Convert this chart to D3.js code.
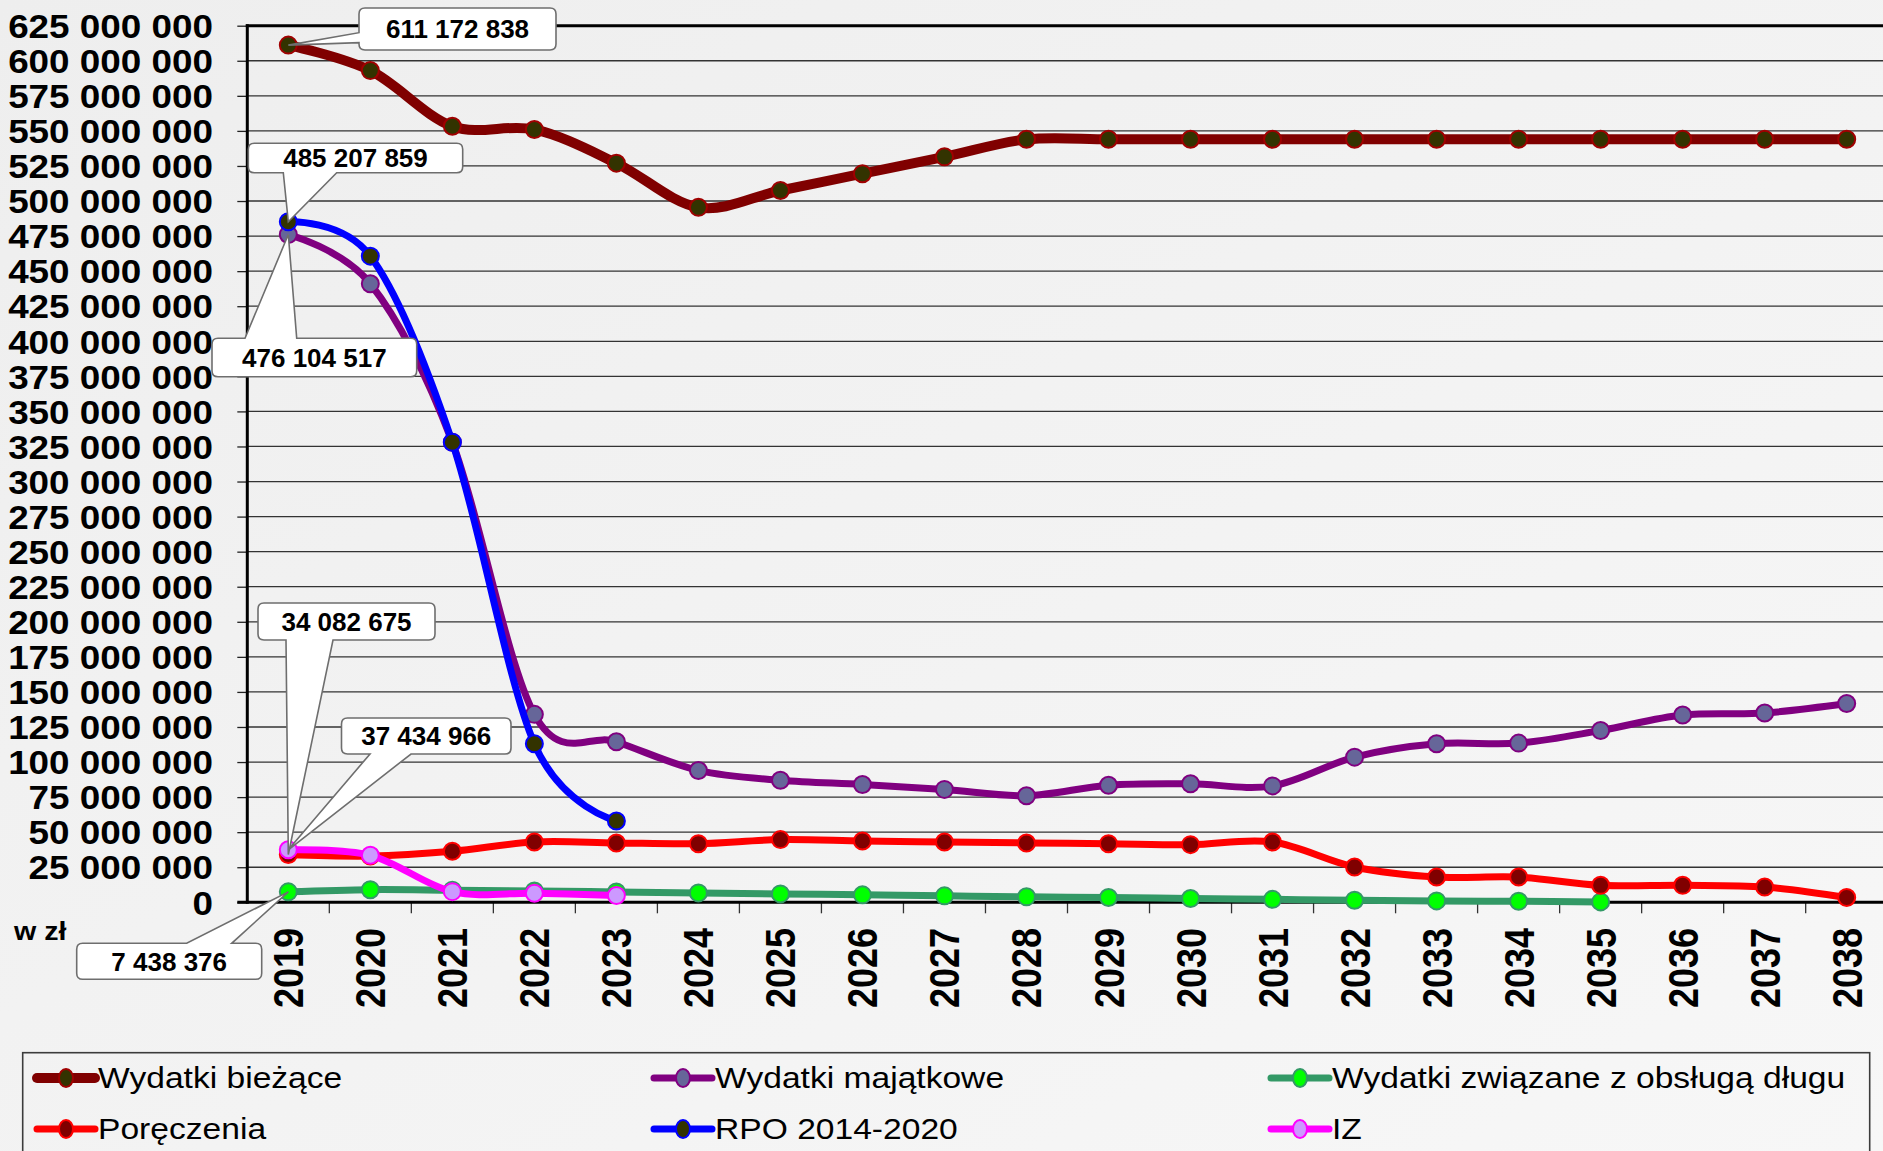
<!DOCTYPE html>
<html><head><meta charset="utf-8">
<script src="https://cdn.jsdelivr.net/npm/d3@7"></script>
<style>
html,body{margin:0;padding:0;background:#f2f2f2;overflow:hidden;}
svg{display:block;}
text{font-family:"Liberation Sans",Arial,sans-serif;}
</style></head><body>
<svg id="chart" width="1883" height="1151"></svg>
<script>
// ---------- DATA ----------
const years = ["2019","2020","2021","2022","2023","2024","2025","2026","2027","2028",
               "2029","2030","2031","2032","2033","2034","2035","2036","2037","2038"];
const yTicks = [0,25e6,50e6,75e6,100e6,125e6,150e6,175e6,200e6,225e6,250e6,275e6,300e6,
                325e6,350e6,375e6,400e6,425e6,450e6,475e6,500e6,525e6,550e6,575e6,600e6,625e6];
const wydatkiBiezace = [611172838,593000000,553300000,551000000,527000000,495500000,507500000,519500000,531500000,
                        544000000,544000000,544000000,544000000,544000000,544000000,544000000,544000000,544000000,544000000,544000000];
const wydatkiMajatkowe = [476104517,441000000,328000000,134000000,114500000,94000000,87000000,84000000,80500000,76000000,
                          83500000,84500000,83000000,103500000,113000000,113500000,122500000,133500000,135000000,141700000];
const obslugaDlugu = [7438376,9000000,8600000,8100000,7400000,6700000,6000000,5300000,4600000,3900000,
                      3400000,2700000,2100000,1500000,1000000,700000,300000,null,null,null];
const poreczenia = [34082675,33000000,36400000,43000000,42300000,41800000,44700000,43700000,43000000,42300000,
                    41800000,41100000,43000000,25200000,18000000,18000000,12100000,12100000,10900000,3400000];
const rpo = [485207859,460700000,328000000,113000000,58000000,null,null,null,null,null,
             null,null,null,null,null,null,null,null,null,null];
const iz = [37434966,33500000,7600000,6500000,4800000,null,null,null,null,null,
            null,null,null,null,null,null,null,null,null,null];
const seriesNames = ["Wydatki bieżące","Wydatki majątkowe","Wydatki związane z obsługą długu","Poręczenia","RPO 2014-2020","IZ"];

// ---------- STYLE ----------
const seriesValues = [wydatkiBiezace, wydatkiMajatkowe, obslugaDlugu, poreczenia, rpo, iz];
const lineColors = ["#800000","#800080","#339966","#FF0000","#0000FF","#FF00FF"];
const markerFill = ["#333300","#666699","#00FF00","#800000","#333300","#CC99FF"];
const markerStroke = ["#A00000","#800080","#339966","#FF0000","#0000FF","#FF00FF"];
const lineWidths = [10,7,7,7,7,7];

const W = 1883, H = 1151;
const plot = {left:247.3, right:1887.7, top:25.7, bottom:902.3};
const svg = d3.select("#chart");

const x = d3.scaleBand().domain(years).range([plot.left, plot.right]);
const cx = d => x(d) + x.bandwidth()/2;
const y = d3.scaleLinear().domain([0, 625e6]).range([plot.bottom, plot.top]);
const fmt = d3.formatLocale({decimal:",", thousands:" ", grouping:[3], currency:["",""]}).format(",.0f");

// background
const defs = svg.append("defs");
const g0 = defs.append("linearGradient").attr("id","bg").attr("x1","0").attr("y1","0").attr("x2","1").attr("y2","1");
g0.append("stop").attr("offset","0").attr("stop-color","#eeeeee");
g0.append("stop").attr("offset","1").attr("stop-color","#f7f7f7");
svg.append("rect").attr("width",W).attr("height",H).attr("fill","url(#bg)");

// gridlines
svg.append("g").selectAll("line").data(yTicks.filter(d=>d>0 && d<625e6)).join("line")
  .attr("x1",plot.left).attr("x2",W).attr("y1",d=>y(d)).attr("y2",d=>y(d))
  .attr("stroke","#333").attr("stroke-width",1.3);

// y axis
const yAxis = svg.append("g").attr("transform",`translate(${plot.left},0)`)
  .call(d3.axisLeft(y).tickValues(yTicks).tickFormat(fmt).tickSize(10).tickPadding(0));
yAxis.attr("font-family",null).attr("font-size",null);
yAxis.select(".domain").remove();
yAxis.selectAll(".tick line").attr("stroke","#222").attr("stroke-width",1.3);
yAxis.selectAll(".tick text").attr("x",0).attr("dy","0.35em")
  .attr("transform","translate(-34.3,0) scale(1.1,1)")
  .style("font-size","33.5px").style("font-weight","bold").attr("fill","#000");

// x axis labels
const xAxis = svg.append("g").attr("transform",`translate(0,${plot.bottom})`)
  .call(d3.axisBottom(x).tickSize(0).tickPadding(0));
xAxis.attr("font-family",null).attr("font-size",null);
xAxis.select(".domain").remove();
xAxis.selectAll(".tick text").attr("y",0).attr("dy",null).attr("text-anchor","end")
  .attr("transform","translate(15,25.7) rotate(-90) scale(1,1.16)")
  .style("font-size","36px").style("font-weight","bold").attr("fill","#000");
// boundary ticks
svg.append("g").selectAll("line").data(years.slice(1)).join("line")
  .attr("x1",d=>x(d)).attr("x2",d=>x(d)).attr("y1",plot.bottom).attr("y2",plot.bottom+11)
  .attr("stroke","#333").attr("stroke-width",1.3);

// frame lines
svg.append("line").attr("x1",plot.left-1.5).attr("x2",W).attr("y1",plot.top).attr("y2",plot.top)
  .attr("stroke","#000").attr("stroke-width",3);
svg.append("line").attr("x1",plot.left).attr("x2",plot.left).attr("y1",plot.top-1.5).attr("y2",plot.bottom+1.5)
  .attr("stroke","#000").attr("stroke-width",3);
svg.append("line").attr("x1",plot.left-10).attr("x2",W).attr("y1",plot.bottom).attr("y2",plot.bottom)
  .attr("stroke","#000").attr("stroke-width",3);

// "w zł"
svg.append("text").attr("transform","translate(14,940) scale(1.1,1)")
  .style("font-size","26px").style("font-weight","bold").text("w zł");

// series
const line = d3.line().x(d=>cx(d.year)).y(d=>y(d.v)).curve(d3.curveCardinal.tension(0));
const series = seriesValues.map((vals,i)=>({
  i, name:seriesNames[i],
  pts: years.map((yr,j)=>({year:yr, v:vals[j]})).filter(p=>p.v!=null)
}));
const sg = svg.append("g");
series.forEach(s=>{
  const g = sg.append("g");
  g.append("path").attr("d",line(s.pts)).attr("fill","none")
    .attr("stroke",lineColors[s.i]).attr("stroke-width",lineWidths[s.i])
    .attr("stroke-linecap","round").attr("stroke-linejoin","round");
  g.selectAll("circle").data(s.pts).join("circle")
    .attr("cx",d=>cx(d.year)).attr("cy",d=>y(d.v)).attr("r",8.5)
    .attr("fill",markerFill[s.i]).attr("stroke",markerStroke[s.i]).attr("stroke-width",2);
});

// callouts
function calloutPath(b, side, a1, a2, px, py, r=6){
  const [x0,y0,x1,y1]=b;
  let p=`M${x0+r},${y0}`;
  if(side==="top") p+=`L${a1},${y0}L${px},${py}L${a2},${y0}`;
  p+=`L${x1-r},${y0}Q${x1},${y0} ${x1},${y0+r}`;
  p+=`L${x1},${y1-r}Q${x1},${y1} ${x1-r},${y1}`;
  if(side==="bottom") p+=`L${a2},${y1}L${px},${py}L${a1},${y1}`;
  p+=`L${x0+r},${y1}Q${x0},${y1} ${x0},${y1-r}`;
  if(side==="left") p+=`L${x0},${a2}L${px},${py}L${x0},${a1}`;
  p+=`L${x0},${y0+r}Q${x0},${y0} ${x0+r},${y0}Z`;
  return p;
}
const callouts = [
  {s:0, j:0, box:[359,8,556,50], side:"left", a:[32.7,42.7]},
  {s:4, j:0, box:[248.3,143.3,462.7,172.7], side:"bottom", a:[283.3,336.7]},
  {s:1, j:0, box:[212,338.3,416.7,376.7], side:"top", a:[245,296.7]},
  {s:3, j:0, box:[258,603,435,640], side:"bottom", a:[286,333]},
  {s:5, j:0, box:[341.5,718,511,754], side:"bottom", a:[370,411]},
  {s:2, j:0, box:[76.7,943.3,261.7,979.3], side:"top", a:[186.7,231.7]}
];
const cg = svg.append("g");
callouts.forEach(c=>{
  const v = seriesValues[c.s][c.j];
  const px = cx(years[c.j]), py = y(v);
  cg.append("path").attr("d",calloutPath(c.box,c.side,c.a[0],c.a[1],px,py))
    .attr("fill","#fff").attr("stroke","#6e6e6e").attr("stroke-width",1.6);
  cg.append("text").attr("x",(c.box[0]+c.box[2])/2).attr("y",(c.box[1]+c.box[3])/2+9.4)
    .attr("text-anchor","middle").style("font-size","26px").style("font-weight","bold").text(fmt(v));
});

// legend
svg.append("rect").attr("x",22.7).attr("y",1052.7).attr("width",1847).attr("height",130)
  .attr("fill","none").attr("stroke","#3c3c3c").attr("stroke-width",1.6);
const legCols = [35, 652, 1269], legRows = [1078, 1129];
const lg = svg.append("g");
series.forEach(s=>{
  const lx = legCols[s.i%3], ly = legRows[Math.floor(s.i/3)];
  const g = lg.append("g");
  g.append("line").attr("x1",lx+2).attr("x2",lx+60).attr("y1",ly).attr("y2",ly)
    .attr("stroke",lineColors[s.i]).attr("stroke-width",lineWidths[s.i]).attr("stroke-linecap","round");
  g.append("ellipse").attr("cx",lx+31).attr("cy",ly).attr("rx",7).attr("ry",9)
    .attr("fill",markerFill[s.i]).attr("stroke",markerStroke[s.i]).attr("stroke-width",2);
  g.append("text").attr("transform",`translate(${lx+63},${ly+10}) scale(1.12,1)`)
    .style("font-size","30px").attr("fill","#000").text(s.name);
});
</script>
</body></html>
